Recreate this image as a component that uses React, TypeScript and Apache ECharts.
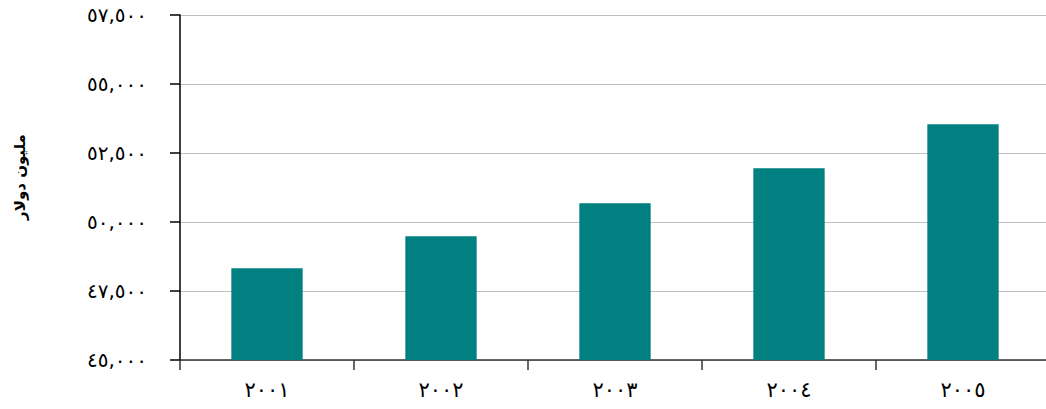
import React, { useEffect, useRef } from "react";
import * as echarts from "echarts";

const categories = ["٢٠٠١", "٢٠٠٢", "٢٠٠٣", "٢٠٠٤", "٢٠٠٥"];
const values = [48320, 49480, 50680, 51950, 53540];
const yMin = 45000;
const yMax = 57500;
const yInterval = 2500;
const yAxisTitle = "مليون دولار";

const arabicDigits = ["٠", "١", "٢", "٣", "٤", "٥", "٦", "٧", "٨", "٩"];
function toArabic(v: number): string {
  const s = v.toLocaleString("en-US");
  return s.replace(/[0-9]/g, (d) => arabicDigits[+d]);
}

export default function App() {
  const ref = useRef<HTMLDivElement>(null);
  useEffect(() => {
    if (!ref.current) return;
    const chart = echarts.init(ref.current, null, { renderer: "svg" });
    const font = "'DejaVu Sans', sans-serif";
    chart.setOption({
      animation: false,
      backgroundColor: "#ffffff",
      grid: { left: 180, right: 0, top: 15, bottom: 49, containLabel: false },
      xAxis: {
        type: "category",
        data: categories,
        axisLine: { show: true, lineStyle: { color: "#333333", width: 1.5 } },
        axisTick: { show: true, length: 10, lineStyle: { color: "#333333", width: 1.5 }, alignWithLabel: false },
        axisLabel: { color: "#000000", fontSize: 21, fontFamily: font, margin: 19 },
        splitLine: { show: false },
      },
      yAxis: {
        type: "value",
        min: yMin,
        max: yMax,
        interval: yInterval,
        axisLine: { show: true, lineStyle: { color: "#000000", width: 1.5 } },
        axisTick: { show: true, length: 10, lineStyle: { color: "#000000", width: 1.5 } },
        axisLabel: {
          color: "#000000",
          fontSize: 20,
          fontFamily: font,
          margin: 33,
          formatter: (v: number) => toArabic(v),
        },
        splitLine: { show: true, lineStyle: { color: "#c0c0c0", width: 1 } },
      },
      graphic: [
        {
          type: "text",
          x: 20,
          y: 177,
          rotation: Math.PI / 2,
          style: {
            text: yAxisTitle,
            fill: "#000000",
            font: "bold 15px " + font,
            textAlign: "center",
            textVerticalAlign: "middle",
          },
        },
      ],
      series: [
        {
          type: "bar",
          data: values,
          barWidth: "41%",
          itemStyle: { color: "#008080" },
        },
      ],
    });
    return () => chart.dispose();
  }, []);
  return (
    <div
      style={{ position: "fixed", left: 0, top: 0, width: 1046, height: 409, overflow: "hidden" }}
    >
      <div ref={ref} style={{ width: 1050, height: 409 }} />
    </div>
  );
}
